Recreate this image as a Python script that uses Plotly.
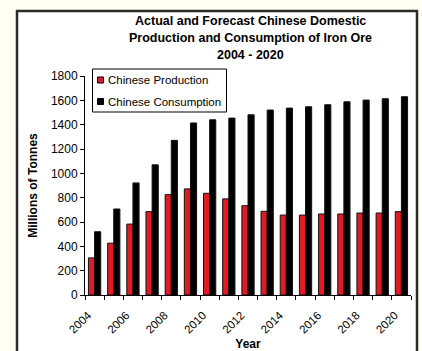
import plotly.graph_objects as go

years = list(range(2004, 2021))
production = [305, 426, 583, 685, 825, 872, 836, 790, 734, 688, 657, 657, 666, 666, 674, 674, 685]
consumption = [520, 707, 921, 1070, 1271, 1414, 1440, 1454, 1481, 1520, 1536, 1547, 1564, 1588, 1602, 1613, 1630]
tick_years = list(range(2004, 2021, 2))
series_names = ["Chinese Production", "Chinese Consumption"]
series_colors = ["#E01B25", "#000000"]
title_lines = ["Actual and Forecast Chinese Domestic",
               "Production and Consumption of Iron Ore",
               "2004 - 2020"]

W, H = 422, 351
L, R, T, B = 85, 11, 76, 56
pw, ph = W - L - R, H - T - B

def px_x(x):
    return (x - L) / pw

def px_y(y):
    return (H - B - y) / ph

fig = go.Figure()
for name, vals, col in zip(series_names, [production, consumption], series_colors):
    fig.add_trace(go.Bar(x=years, y=vals, name=name, showlegend=False,
                         marker=dict(color=col, line=dict(color="#111", width=1))))

# outer frame
fig.add_shape(type="rect", xref="paper", yref="paper",
              x0=px_x(17), x1=px_x(417), y0=px_y(362), y1=px_y(11),
              line=dict(color="#2b2b2b", width=2.5), fillcolor="white", layer="below")

# title
for line, yc in zip(title_lines, [21, 38, 55]):
    fig.add_annotation(text="<b>%s</b>" % line, xref="paper", yref="paper",
                       x=px_x(250), y=px_y(yc), xanchor="center", yanchor="middle",
                       showarrow=False, font=dict(size=12.5, color="black"))

# legend box
fig.add_shape(type="rect", xref="paper", yref="paper",
              x0=px_x(92.5), x1=px_x(226.5), y0=px_y(112), y1=px_y(69),
              line=dict(color="black", width=1), fillcolor="white", layer="above")
for name, col, yc in zip(series_names, series_colors, [80, 101.5]):
    fig.add_shape(type="rect", xref="paper", yref="paper",
                  x0=px_x(97.5), x1=px_x(103.5), y0=px_y(yc + 3), y1=px_y(yc - 3),
                  line=dict(color="black", width=1), fillcolor=col, layer="above")
    fig.add_annotation(text=name, xref="paper", yref="paper",
                       x=px_x(106), y=px_y(yc), xanchor="left", yanchor="middle",
                       showarrow=False, font=dict(size=11.5, color="black"))

fig.update_layout(
    width=W, height=H,
    margin=dict(l=L, r=R, t=T, b=B, autoexpand=False),
    paper_bgcolor="#FFFEF0",
    plot_bgcolor="white",
    font=dict(family="Arial, Liberation Sans, sans-serif", size=12, color="black"),
    barmode="group", bargap=0.36, bargroupgap=0,
    xaxis=dict(range=[2003.5, 2020.5], tickvals=[y - 0.35 for y in tick_years],
               ticktext=[str(y) for y in tick_years],
               tickangle=-45, ticks="", showline=True, linecolor="black", linewidth=1,
               showgrid=False, zeroline=False, tickfont=dict(size=11.5), automargin=False,
               ticklabelstandoff=8,
               minor=dict(tick0=2003.5, dtick=1, ticks="outside", ticklen=4, tickcolor="black", showgrid=False),
               title=dict(text="<b>Year</b>", font=dict(size=12), standoff=8)),
    yaxis=dict(range=[0, 1800], dtick=200, ticks="outside", ticklen=4, tickcolor="black",
               showline=True, linecolor="black", linewidth=1, showgrid=False, zeroline=False,
               tickfont=dict(size=12), automargin=False,
               title=dict(text="<b>Millions of Tonnes</b>", font=dict(size=12), standoff=10)),
)

fig.write_html("out.html")
